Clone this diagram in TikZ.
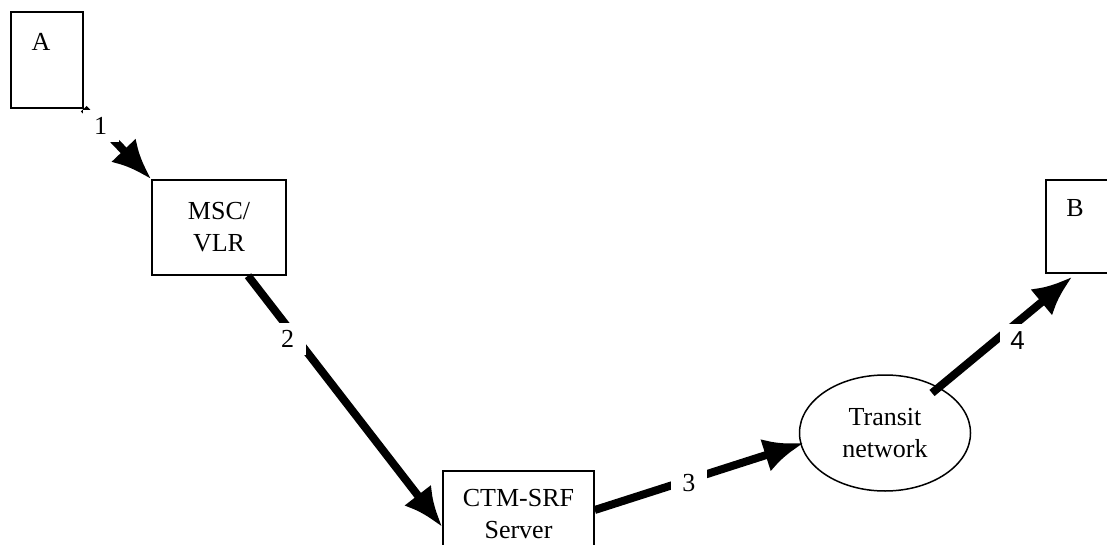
\documentclass[tikz,border=0pt]{standalone}
\usepackage{fontspec}
\setmainfont{Liberation Serif}
\newfontfamily\sansnum{Liberation Sans}
\usetikzlibrary{arrows.meta,shapes.geometric}
\begin{document}
\begin{tikzpicture}[x=0.5pt,y=-0.5pt,
  blk/.style={draw,line width=0.75pt,inner sep=0pt,align=center,font=\fontsize{13}{16}\selectfont},
  txt/.style={inner sep=0pt,font=\fontsize{13}{16}\selectfont},
  flow/.style={-{Latex[length=20pt,width=17pt]},line width=4pt},
  num/.style={fill=white,inner sep=0pt,minimum width=18pt,minimum height=16pt,font=\fontsize{13}{16}\selectfont}]
  \useasboundingbox (0,0) rectangle (1107,545);
  \clip (0,0) rectangle (1107,545);
  \node[blk,minimum width=36pt,minimum height=48pt] (A) at (47,60) {};
  \node[txt] (labA) at (41,42) {A};
  \node[blk,minimum width=67pt,minimum height=47.5pt] (msc) at (219,227.5) {MSC/\\VLR};
  \node[blk,minimum width=75.5pt,minimum height=43pt] (ctm) at (518.5,514) {CTM-SRF\\Server};
  \node[blk,ellipse,minimum width=85.5pt,minimum height=58pt] (transit) at (885,433) {Transit\\network};
  \node[blk,minimum width=36pt,minimum height=46.5pt] (B) at (1082,226.5) {};
  \node[txt] (labB) at (1075,208) {B};
  \draw[flow] (A.south east) -- (msc.north west) node[num,pos=0.25] (n1) {1};
  \draw[flow] ([xshift=14.5pt]msc.south) -- ([yshift=-6.5pt]ctm.west) node[num,pos=0.25,xshift=-4.5pt] (n2) {2};
  \draw[flow] ([yshift=2pt]ctm.east) -- ([xshift=2.5pt,yshift=-5pt]transit.west) node[num,pos=0.45,yshift=-1.5pt] (n3) {3};
  \draw[flow] ([shift={(23.5pt,20pt)}]transit.center) -- ([xshift=13.5pt,yshift=-1.5pt]B.south west) node[num,pos=0.61,yshift=-9pt,font=\sansnum\fontsize{13}{16}\selectfont] (n4) {4};
\end{tikzpicture}
\end{document}
